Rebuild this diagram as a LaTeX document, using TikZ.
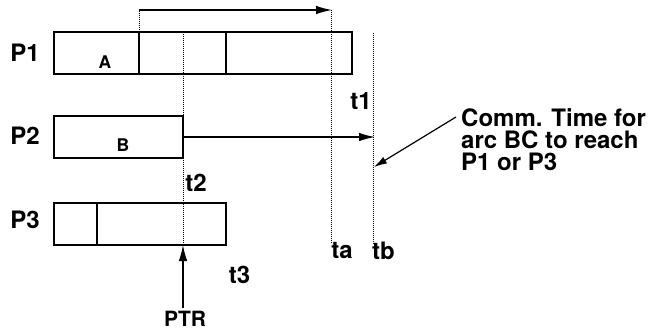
\documentclass[tikz,border=0pt]{standalone}
\usepackage{fontspec}
\setmainfont{TeX Gyre Heros}
\usetikzlibrary{arrows.meta}
\usetikzlibrary{positioning}
\tikzset{cell/.style={draw, line width=1.3pt, anchor=north west, inner sep=0pt, outer sep=0pt, minimum height=42pt},
         proc/.style={font=\fontsize{24}{24}\selectfont\bfseries, inner sep=0pt},
         tick/.style={font=\fontsize{24}{24}\selectfont\bfseries, inner sep=0pt},
         small/.style={font=\fontsize{17.5}{17.5}\selectfont\bfseries, inner sep=0pt},
         guide/.style={densely dotted, line width=1pt},
         flow/.style={line width=1.2pt, -{Latex[length=16pt,width=8.5pt]}}}

\begin{document}
\begin{tikzpicture}[x=1pt, y=-1pt]
  \useasboundingbox (0,0) rectangle (649,330);
  % processors
  \node[proc] (P1) at (25,53) {P1};
  \node[proc] (P2) at (25,136) {P2};
  \node[proc] (P3) at (25,220) {P3};
  % task boxes
  \node[cell, minimum width=85pt] (P1a) at (54,32) {};
  \node[cell, minimum width=87pt] (P1b) at (139,32) {};
  \node[cell, minimum width=126pt] (P1c) at (226,32) {};
  \node[cell, minimum width=129pt] (P2a) at (54,116) {};
  \node[cell, minimum width=43pt] (P3a) at (54,203) {};
  \node[cell, minimum width=129pt] (P3b) at (97,203) {};
  \node[small] (A) at (105,62) {A};
  \node[small] (B) at (123,145.5) {B};
  % time lines
  \coordinate (up) at (139,10);
  \coordinate (upend) at (332,10);
  \coordinate (tatop) at (331,10);
  \coordinate (ta) at (331,243);
  \coordinate (t2top) at (183,32);
  \coordinate (t2bot) at (183,245);
  \coordinate (tbtop) at (373,33);
  \coordinate (tb) at (373,245);
  \coordinate (hit) at (375,137);
  \coordinate (tbmid) at (374,167);
  \coordinate (ptrfoot) at (183,308);
  \coordinate (commtail) at (456,117);
  \draw[guide] (P1b.north west) -- (up);
  \draw[flow] (up) -- (upend);
  \draw[guide] (tatop) -- (ta);
  \draw[guide] (t2top) -- (t2bot);
  \draw[guide] (tbtop) -- (tb);
  \draw[flow] (P2a.east) -- (hit);
  \draw[flow] (ptrfoot) -- (t2bot);
  % labels
  \node[tick] (t1) at (361,101) {t1};
  \node[tick] (t2) at (196,183) {t2};
  \node[tick] (t3) at (239.5,274.5) {t3};
  \node[tick] (tal) at (342,251) {ta};
  \node[tick] (tbl) at (383.5,251) {tb};
  \node[font=\fontsize{21}{21}\selectfont\bfseries, inner sep=0pt] (PTR) at (185,318.5) {PTR};
  \node[align=left, anchor=west, inner sep=0pt, font=\fontsize{24}{22}\selectfont\bfseries] (comm) at (461,140)
    {Comm. Time for\\arc BC to reach\\P1 or P3};
  \draw[line width=1.2pt, -{Latex[length=13pt,width=7.5pt]}] (commtail) -- (tbmid);
\end{tikzpicture}
\end{document}
